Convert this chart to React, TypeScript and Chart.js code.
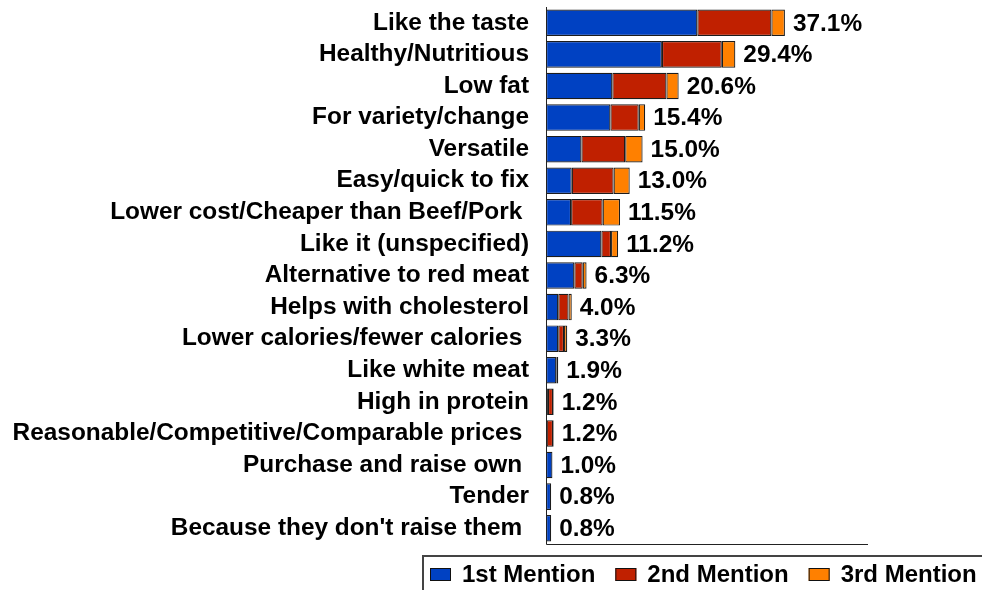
import React, { useEffect, useRef } from "react";
import { Chart, registerables } from "chart.js";

Chart.register(...registerables);

const categories = [
  "Like the taste",
  "Healthy/Nutritious",
  "Low fat",
  "For variety/change",
  "Versatile",
  "Easy/quick to fix",
  "Lower cost/Cheaper than Beef/Pork ",
  "Like it (unspecified)",
  "Alternative to red meat",
  "Helps with cholesterol",
  "Lower calories/fewer calories ",
  "Like white meat",
  "High in protein",
  "Reasonable/Competitive/Comparable prices ",
  "Purchase and raise own ",
  "Tender",
  "Because they don't raise them ",
];

const firstMention = [23.5, 18.0, 10.3, 10.0, 5.5, 4.0, 3.9, 8.6, 4.4, 1.9, 1.9, 1.6, 0.3, 0.1, 1.0, 0.8, 0.8];
const secondMention = [11.5, 9.3, 8.4, 4.4, 6.8, 6.5, 4.9, 1.5, 1.3, 1.6, 0.9, 0.0, 0.8, 1.0, 0.0, 0.0, 0.0];
const thirdMention = [2.1, 2.1, 1.9, 1.0, 2.7, 2.5, 2.7, 1.1, 0.6, 0.5, 0.5, 0.3, 0.1, 0.1, 0.0, 0.0, 0.0];
const totals = [37.1, 29.4, 20.6, 15.4, 15.0, 13.0, 11.5, 11.2, 6.3, 4.0, 3.3, 1.9, 1.2, 1.2, 1.0, 0.8, 0.8];

const seriesNames = ["1st Mention", "2nd Mention", "3rd Mention"];
const seriesColors = ["#0041C2", "#C02000", "#FF8000"];

const FONT = '"Liberation Sans", Arial, Helvetica, sans-serif';
const FONT_SIZE = 24.4;
const LEGEND_FONT_SIZE = 24;

const axisLinesPlugin = {
  id: "axisLines",
  afterDraw(chart: any) {
    const { ctx, chartArea } = chart;
    ctx.save();
    ctx.strokeStyle = "#222";
    ctx.lineWidth = 1;
    ctx.beginPath();
    ctx.moveTo(chartArea.left + 0.5, chartArea.top);
    ctx.lineTo(chartArea.left + 0.5, chartArea.bottom + 0.5);
    ctx.lineTo(chartArea.right, chartArea.bottom + 0.5);
    ctx.stroke();
    ctx.restore();
  },
};

const totalLabelsPlugin = {
  id: "totalLabels",
  afterDatasetsDraw(chart: any) {
    const { ctx } = chart;
    const xScale = chart.scales.x;
    const yScale = chart.scales.y;
    ctx.save();
    ctx.font = `bold ${FONT_SIZE}px ${FONT}`;
    ctx.fillStyle = "#000";
    ctx.textAlign = "left";
    ctx.textBaseline = "middle";
    totals.forEach((t, i) => {
      const x = xScale.getPixelForValue(t);
      const y = yScale.getPixelForValue(i);
      ctx.fillText(t.toFixed(1) + "%", x + 8, y + 1);
    });
    ctx.restore();
  },
};

const customLegendPlugin = {
  id: "customLegend",
  afterDraw(chart: any) {
    const { ctx } = chart;
    ctx.save();
    ctx.strokeStyle = "#444";
    ctx.lineWidth = 2;
    ctx.strokeRect(423, 556, 620, 60);
    ctx.font = `bold ${LEGEND_FONT_SIZE}px ${FONT}`;
    ctx.textBaseline = "middle";
    ctx.textAlign = "left";
    let x = 430;
    const boxY = 568;
    chart.data.datasets.forEach((ds: any) => {
      ctx.fillStyle = ds.backgroundColor;
      ctx.fillRect(x, boxY, 21, 13);
      ctx.strokeStyle = "#111";
      ctx.lineWidth = 1;
      ctx.strokeRect(x + 0.5, boxY + 0.5, 20, 12);
      x += 21 + 11;
      ctx.fillStyle = "#000";
      ctx.fillText(ds.label, x, boxY + 7);
      x += ctx.measureText(ds.label).width + 20;
    });
    ctx.restore();
  },
};

export default function App() {
  const canvasRef = useRef<HTMLCanvasElement | null>(null);

  useEffect(() => {
    if (!canvasRef.current) return;
    const data = [firstMention, secondMention, thirdMention];
    const chart = new Chart(canvasRef.current, {
      type: "bar",
      data: {
        labels: categories,
        datasets: data.map((d, i) => ({
          label: seriesNames[i],
          data: d,
          backgroundColor: seriesColors[i],
          borderColor: "#1c1c1c",
          borderWidth: 1.2,
          borderSkipped: false,
          barPercentage: 0.84,
          categoryPercentage: 1,
        })),
      },
      options: {
        indexAxis: "y",
        responsive: false,
        animation: false,
        layout: { padding: { top: 7, bottom: 46, right: 114, left: 0 } },
        plugins: {
          legend: { display: false },
          tooltip: { enabled: false },
        },
        scales: {
          x: {
            stacked: true,
            min: 0,
            max: 50,
            display: false,
          },
          y: {
            stacked: true,
            offset: true,
            grid: { display: false, drawTicks: false, offset: true },
            border: { display: false },
            ticks: {
              color: "#000",
              padding: 17,
              font: { family: FONT, size: FONT_SIZE, weight: "bold" },
              autoSkip: false,
            },
            afterFit(scale: any) {
              scale.width = 546;
              scale.paddingTop = 0;
              scale.paddingBottom = 0;
            },
          },
        },
      },
      plugins: [axisLinesPlugin, totalLabelsPlugin, customLegendPlugin],
    } as any);
    return () => chart.destroy();
  }, []);

  return (
    <div style={{ position: "absolute", left: 0, top: 0, width: 982, height: 590, background: "#fff" }}>
      <canvas ref={canvasRef} width={982} height={590} style={{ display: "block" }} />
    </div>
  );
}
